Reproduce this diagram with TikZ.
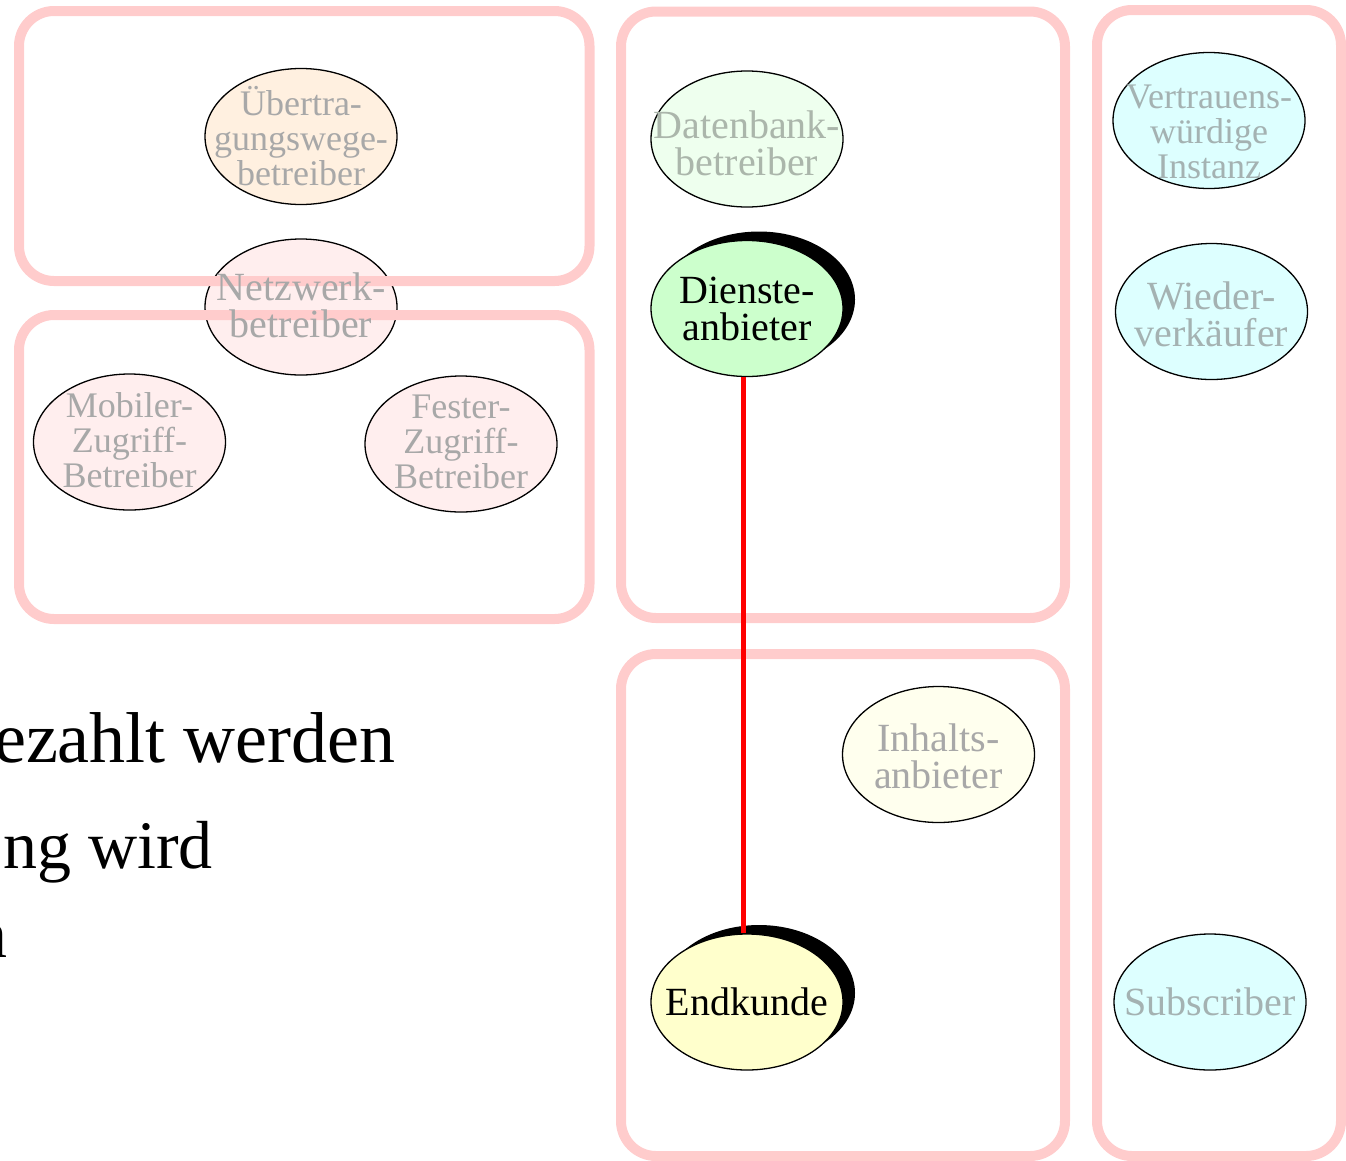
\documentclass[tikz,border=0pt]{standalone}
\usepackage{fontspec}
\setmainfont{Liberation Serif}
\usetikzlibrary{shapes.geometric,shadows}
\definecolor{grpc}{HTML}{FFCCCC}
\definecolor{peachfill}{HTML}{FFF0E0}
\definecolor{pinkfill}{HTML}{FFEEEE}
\definecolor{mintfill}{HTML}{EEFFEE}
\definecolor{greenfill}{HTML}{CCFFCC}
\definecolor{cyanfill}{HTML}{DDFFFF}
\definecolor{creamfill}{HTML}{FFFFEE}
\definecolor{yellowfill}{HTML}{FFFFCC}
\definecolor{dimtext}{HTML}{A8A8A8}
\definecolor{dimgreen}{HTML}{ABB6AB}
\definecolor{dimcyan}{HTML}{A4B2B2}
\begin{document}
\begin{tikzpicture}[x=1pt,y=-1pt,
  grp/.style={draw=grpc, line width=10pt, rounded corners=35pt},
  actor/.style={ellipse, draw=black, line width=1.3pt, minimum width=192pt,
    minimum height=136pt, inner sep=0pt},
  lab/.style={inner sep=0pt, align=center, font=\fontsize{40}{37}\selectfont},
  lab3/.style={lab, font=\fontsize{36}{35}\selectfont},
  shadowed/.style={drop shadow={shadow xshift=12pt, shadow yshift=9pt, opacity=1, fill=black}},
  link/.style={draw=red, line width=5pt},
  bigtext/.style={anchor=base east, inner sep=0pt}
]
\useasboundingbox (0,0) rectangle (1346,1160);

% ellipse that is crossed by the group frames
\node[actor, fill=pinkfill] (netz) at (301,307) {};

% group frames
\draw[grp] (19,11) rectangle (589.5,281);
\draw[grp] (19,315) rectangle (589.5,619);
\draw[grp] (621,11.5) rectangle (1065,618);
\draw[grp] (621,654) rectangle (1065,1156);
\draw[grp] (1097,10) rectangle (1341,1156);

\node[lab, text=dimtext] (netzlabel) at ([yshift=2pt]netz.center) {Netzwerk-\\betreiber};

% actors
\node[actor, fill=peachfill, label={[lab3, text=dimtext]center:{Übertra-\\gungswege-\\betreiber}}] (uebertr) at (301,136.5) {};
\node[actor, fill=pinkfill, label={[lab3, text=dimtext, yshift=2pt]center:{Mobiler-\\Zugriff-\\Betreiber}}] (mobil) at (129.5,442) {};
\node[actor, fill=pinkfill, label={[lab3, text=dimtext, yshift=2pt]center:{Fester-\\Zugriff-\\Betreiber}}] (fest) at (461,444) {};
\node[actor, fill=mintfill, label={[lab, text=dimgreen, yshift=-4pt]center:{Datenbank-\\betreiber}}] (datenbank) at (747,139) {};
\node[actor, fill=greenfill, shadowed, label={[lab]center:{Dienste-\\anbieter}}] (dienst) at (747,308.5) {};
\node[actor, fill=cyanfill, label={[lab3, text=dimcyan, yshift=-11pt]center:{Vertrauens-\\würdige\\Instanz}}] (vertrauen) at (1209,120.5) {};
\node[actor, fill=cyanfill, label={[lab, text=dimcyan, yshift=-3pt]center:{Wieder-\\verkäufer}}] (wieder) at (1211.5,311.5) {};
\node[actor, fill=creamfill, label={[lab, text=dimtext, yshift=-2pt]center:{Inhalts-\\anbieter}}] (inhalt) at (938.5,754.5) {};
\node[actor, fill=yellowfill, shadowed, label={[lab]center:{Endkunde}}] (endkunde) at (747,1002) {};
\node[actor, fill=cyanfill, label={[lab, text=dimcyan]center:{Subscriber}}] (subscriber) at (1210,1002) {};

% connector
\draw[link] ([xshift=-4pt]dienst.south) -- ([xshift=-4pt]endkunde.north);

% partially visible slide text
\node[bigtext, font=\fontsize{72}{80}\selectfont] (line1) at (396,762) {ezahlt werden};
\node[bigtext, font=\fontsize{68}{76}\selectfont] (line2) at (213,868) {ng wird};
\node[bigtext, font=\fontsize{68}{76}\selectfont] (line3) at (8,957) {n};
\end{tikzpicture}
\end{document}
